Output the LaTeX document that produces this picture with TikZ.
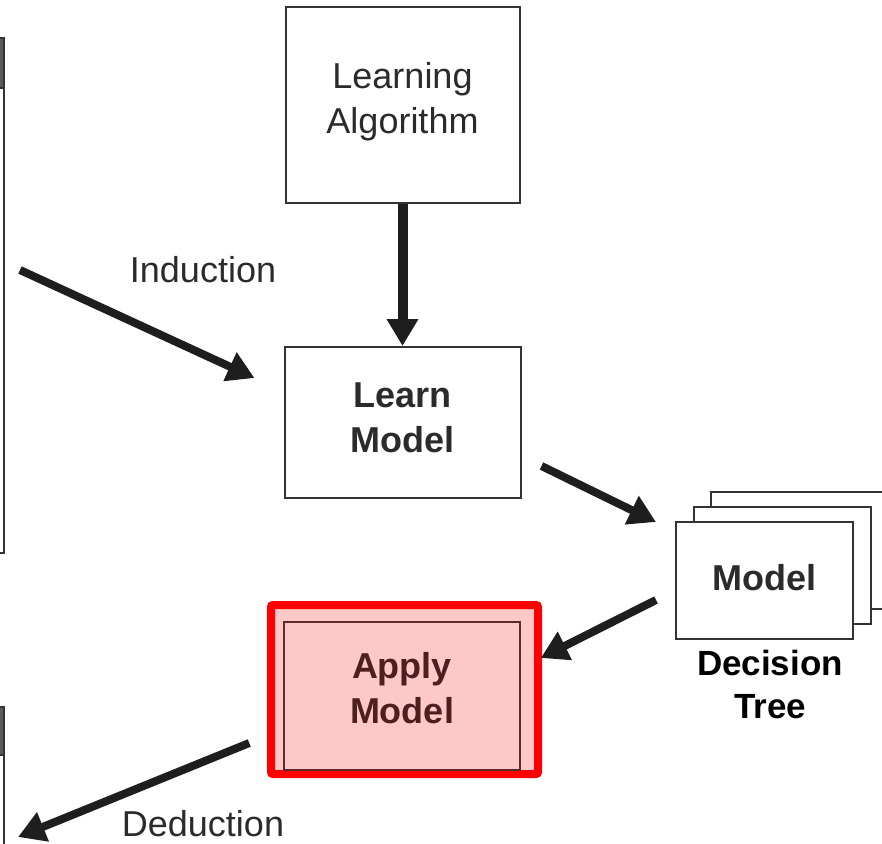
\documentclass[tikz,border=0pt]{standalone}
\usepackage{fontspec}
\setmainfont{Liberation Sans}
\usepackage{tikz}
\usetikzlibrary{calc,arrows.meta}
\definecolor{ink}{HTML}{2B2B2B}
\definecolor{edge}{HTML}{333333}
\definecolor{arrowc}{HTML}{1E1E1E}
\definecolor{hilite}{HTML}{FF0000}
\definecolor{pinkfill}{HTML}{FFC8C8}
\definecolor{applyedge}{HTML}{5C2A2A}
\definecolor{applytext}{HTML}{4D1F1F}
\definecolor{tblhead}{HTML}{5A5A5A}
\tikzset{
  box/.style={draw=edge, line width=2pt, text=ink, align=center, inner sep=0pt,
    font=\fontsize{36}{45}\selectfont},
  boxb/.style={box, font=\bfseries\fontsize{36}{45}\selectfont},
  arr/.style={draw=arrowc, line width=8pt, -{Triangle[length=27pt,width=30pt]}},
  lab/.style={text=ink, font=\fontsize{36}{45}\selectfont},
  tblh/.style={draw=edge, line width=1.5pt, fill=tblhead},
  tblb/.style={draw=edge, line width=1.5pt, fill=white},
}
\begin{document}
\begin{tikzpicture}[x=1pt,y=-1pt]
  \useasboundingbox (0,0) rectangle (882,843);

  % data tables cut off at the left edge
  \draw[tblb] (-30,88) rectangle (4,553);
  \draw[tblh] (-30,38) rectangle (4,88);
  \draw[tblb] (-30,755) rectangle (4,880);
  \draw[tblh] (-30,707) rectangle (4,755);
  \coordinate (train) at (4,295.5);
  \coordinate (test) at (4,790);

  \node[box, text depth=15pt, minimum width=234pt, minimum height=196pt] (algo) at (402.5,105) {Learning\\Algorithm};
  \node[boxb, text depth=10pt, minimum width=236pt, minimum height=151pt] (learn) at (402.5,422.5) {Learn\\Model};

  % stacked model sheets
  \node[box, fill=white, minimum width=177pt, minimum height=117pt] (model3) at (799.5,550.5) {};
  \node[box, fill=white, minimum width=177pt, minimum height=117pt] (model2) at (782,565.5) {};
  \node[boxb, fill=white, text depth=6pt, minimum width=177pt, minimum height=117pt] (model) at (764.5,580.5) {Model};
  \node[text=black, align=center, font=\bfseries\fontsize{35}{43}\selectfont] (dtree) at (770,684) {Decision\\Tree};

  % highlighted step
  \draw[draw=hilite, line width=8pt, fill=pinkfill, rounded corners=2pt] (271,605) rectangle (538,774);
  \node[boxb, draw=applyedge, line width=1.5pt, text=applytext, text depth=16pt, minimum width=236pt, minimum height=148pt] (apply) at (402,696) {Apply\\Model};

  \node[lab] (induct) at (203,270) {Induction};
  \node[lab] (deduct) at (203,824) {Deduction};

  \draw[arr, line width=10pt] (algo.south) -- (learn.north);
  \draw[arr] ($(train)+(16,-25.5)$) -- ($(learn.west)+(-29,-44.5)$);
  \draw[arr] ($(learn.south east)+(20,-33)$) -- ($(model.north west)+(-19,1)$);
  \draw[arr] ($(model.west)+(-19,19.5)$) -- ($(apply.east)+(20,-38)$);
  \draw[arr] ($(apply.west)+(-34,47)$) -- ($(test)+(14,47)$);
\end{tikzpicture}
\end{document}
